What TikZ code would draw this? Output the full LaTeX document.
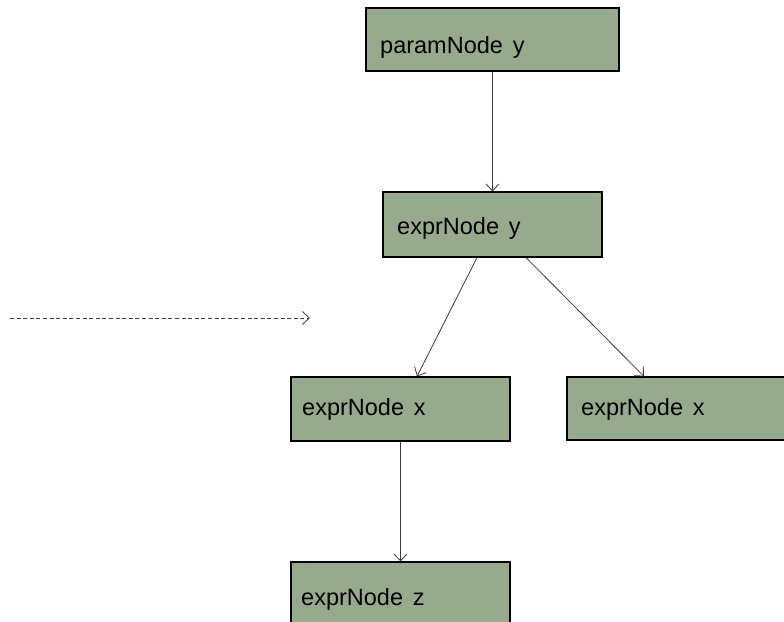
\documentclass[tikz,border=0pt]{standalone}
\usepackage{fontspec}
\setmainfont{Liberation Sans}
\usetikzlibrary{arrows.meta}
\definecolor{boxfill}{RGB}{151,170,142}
\definecolor{linegray}{RGB}{60,60,60}
\newcommand\wgap{\hspace{0.42em}}
\tikzset{
  box/.style={draw=black, line width=1.1pt, fill=boxfill, rectangle, inner sep=0pt},
  lbl/.style={anchor=base west, inner sep=0pt, font=\fontsize{23.5}{28}\selectfont},
  conn/.style={draw=linegray, line width=0.8pt, -{Straight Barb[length=7pt,width=13pt,line width=0.8pt]}},
  dashconn/.style={conn, dash pattern=on 4pt off 2.6pt}
}
\begin{document}
\begin{tikzpicture}[x=1pt,y=-1pt]
\clip (0,0) rectangle (784,621);
\fill[white] (0,0) rectangle (784,621);
% boxes
\node[box, minimum width=253pt, minimum height=63pt] (py) at (492.5,39.5) {};
\node[box, minimum width=219pt, minimum height=65pt] (ey) at (492.5,224.5) {};
\node[box, minimum width=219pt, minimum height=64pt] (lx) at (400.5,409) {};
\node[box, minimum width=240pt, minimum height=63pt] (rx) at (687,408.5) {};
\node[box, minimum width=219pt, minimum height=80pt] (ez) at (400.5,602) {};
% labels
\node[lbl] (tpy) at (380,53) {paramNode\wgap y};
\node[lbl] (tey) at (397,234) {exprNode\wgap y};
\node[lbl] (tlx) at (302,415) {exprNode\wgap x};
\node[lbl] (trx) at (581,415) {exprNode\wgap x};
\node[lbl] (tez) at (301,605) {exprNode\wgap z};
% connectors
\draw[conn] (py.south) -- (ey.north);
\draw[conn] ([xshift=-15.5pt]ey.south) -- ([xshift=16.5pt]lx.north);
\draw[conn] ([xshift=33.5pt]ey.south) -- ([xshift=-43pt]rx.north);
\draw[conn] (lx.south) -- (ez.north);
\coordinate (ds) at (10,318);
\coordinate (de) at (310,318);
\draw[dashconn] (ds) -- (de);
\end{tikzpicture}
\end{document}
